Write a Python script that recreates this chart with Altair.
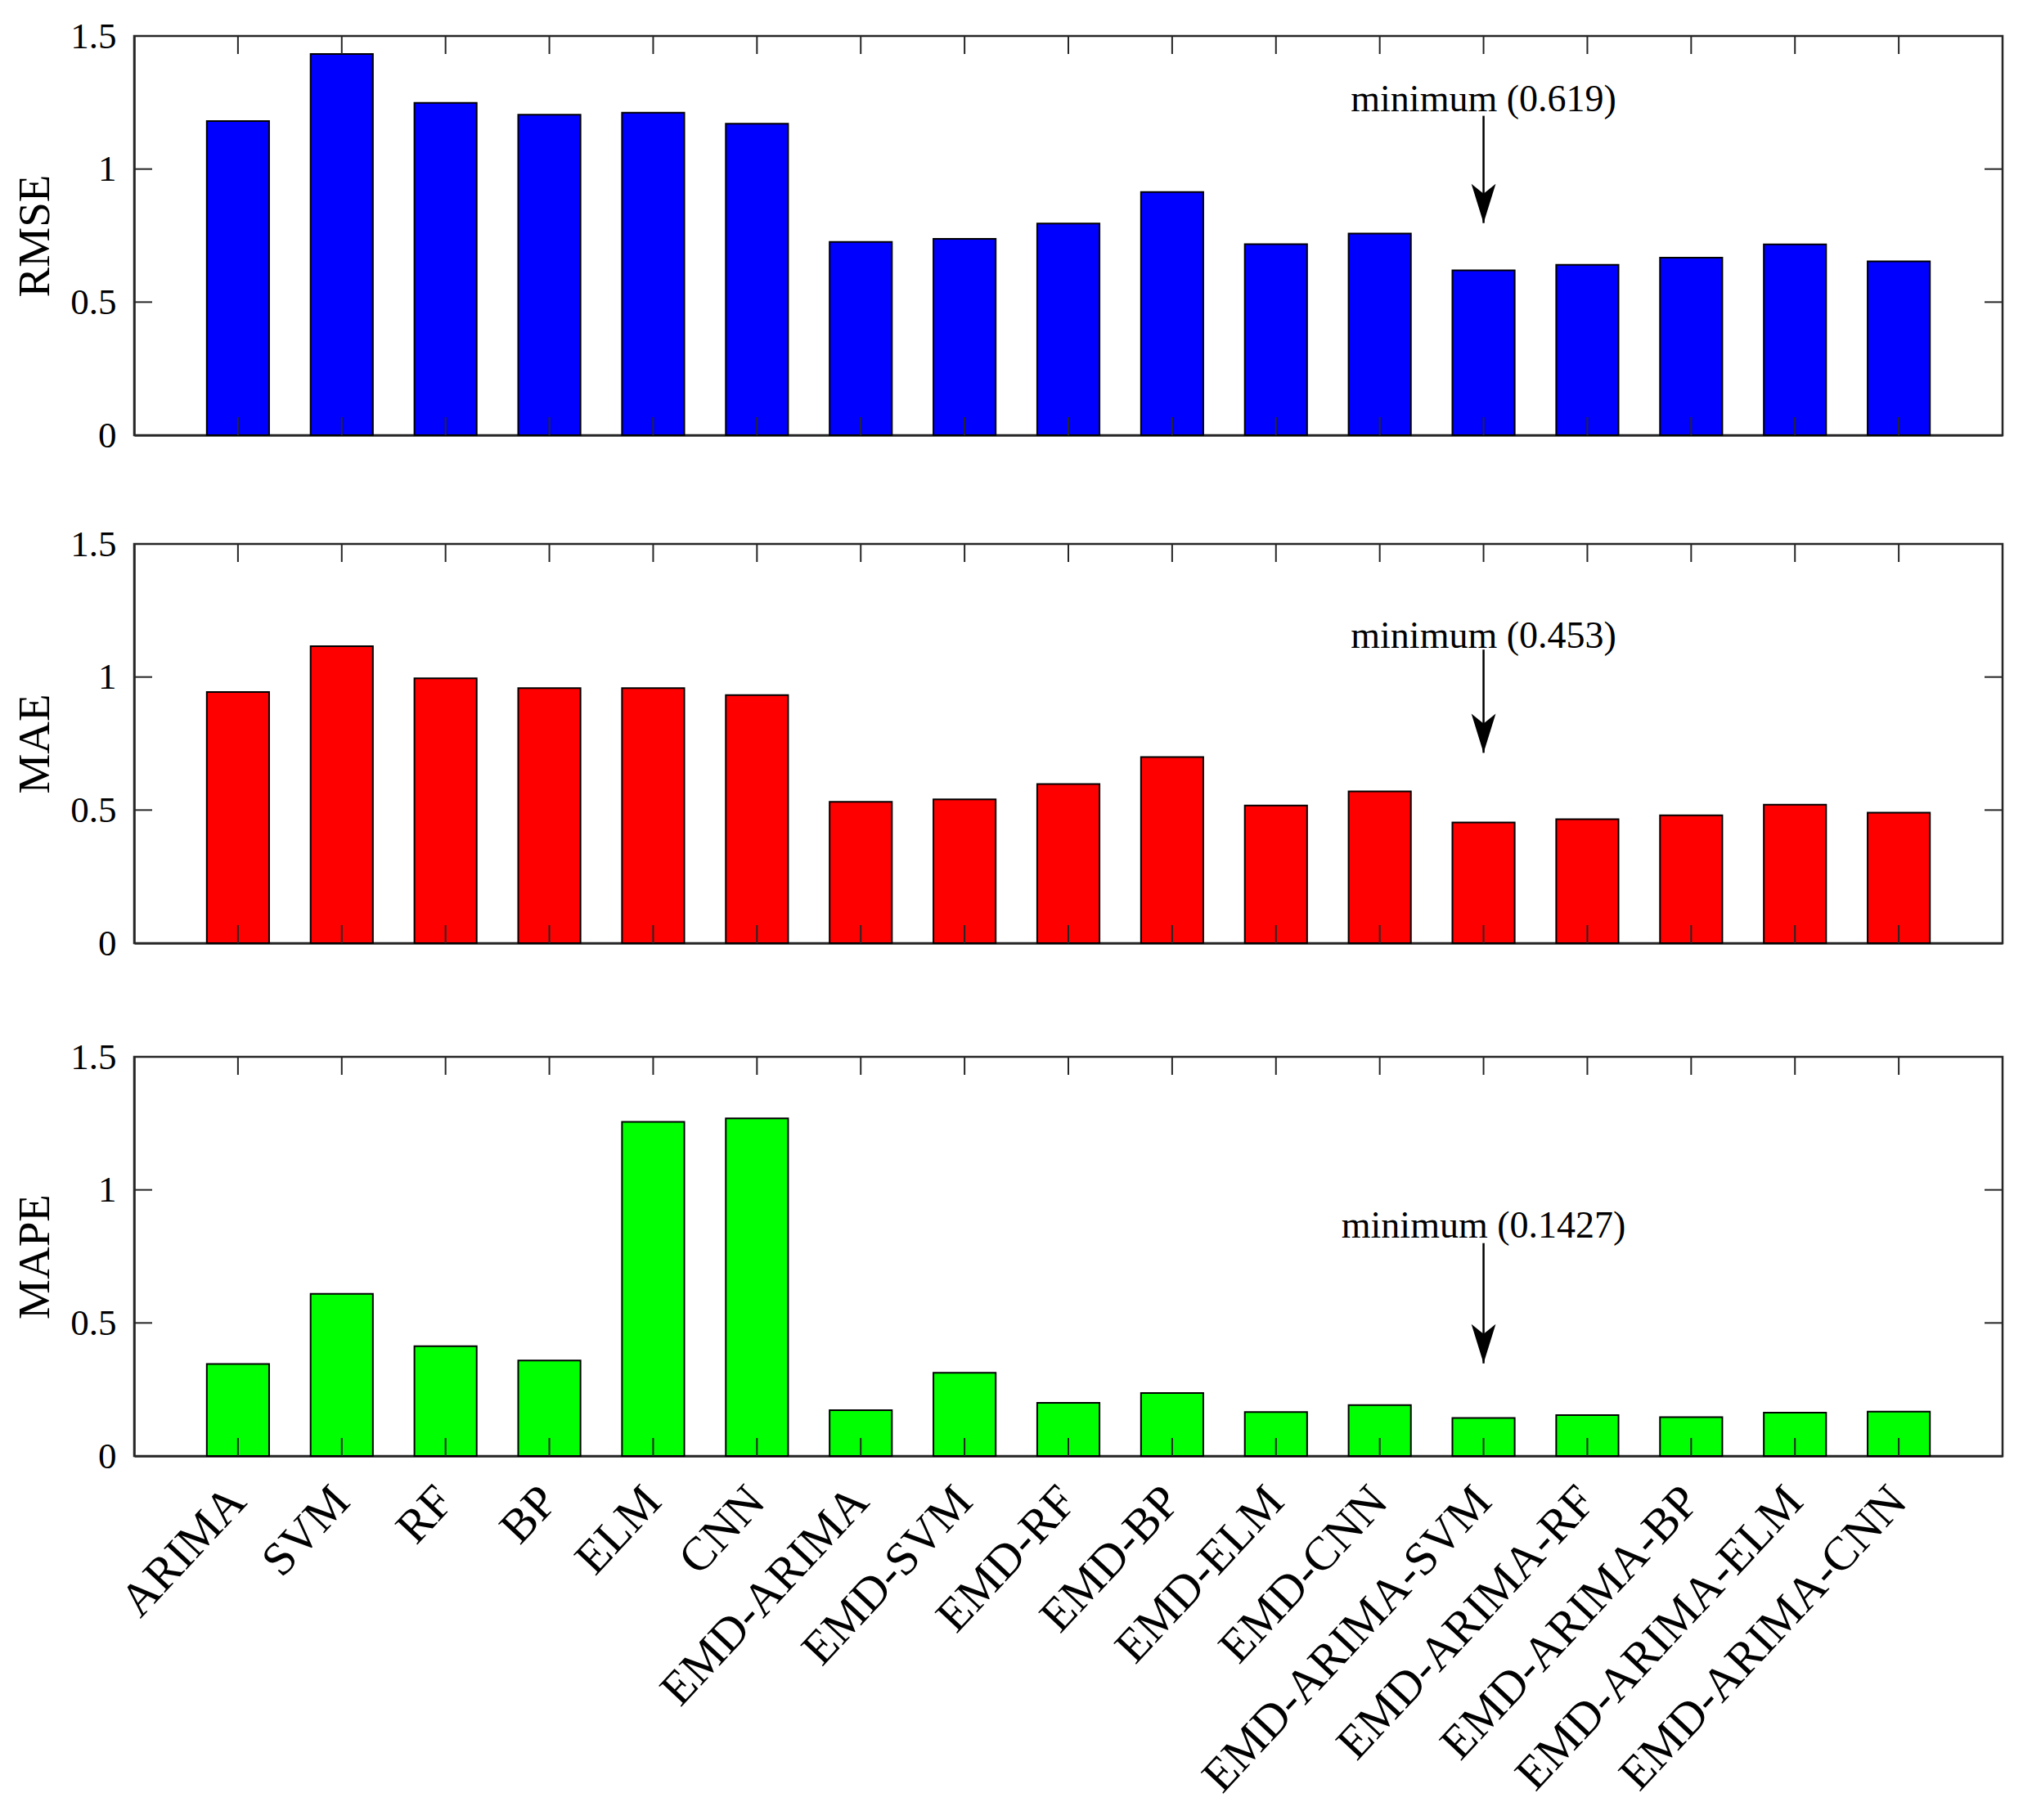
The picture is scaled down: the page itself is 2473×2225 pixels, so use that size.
import altair as alt
import pandas as pd

models = ["ARIMA", "SVM", "RF", "BP", "ELM", "CNN", "EMD-ARIMA", "EMD-SVM",
          "EMD-RF", "EMD-BP", "EMD-ELM", "EMD-CNN", "EMD-ARIMA-SVM",
          "EMD-ARIMA-RF", "EMD-ARIMA-BP", "EMD-ARIMA-ELM", "EMD-ARIMA-CNN"]
rmse = [1.180, 1.432, 1.249, 1.204, 1.212, 1.170, 0.726, 0.738, 0.795,
        0.914, 0.718, 0.758, 0.619, 0.640, 0.667, 0.717, 0.653]
mae = [0.944, 1.116, 0.995, 0.958, 0.958, 0.932, 0.531, 0.540, 0.598,
       0.699, 0.517, 0.570, 0.453, 0.466, 0.480, 0.520, 0.490]
mape = [0.346, 0.609, 0.413, 0.359, 1.256, 1.269, 0.172, 0.313, 0.200,
        0.237, 0.165, 0.191, 0.1427, 0.154, 0.146, 0.163, 0.167]

metric_names = ["RMSE", "MAE", "MAPE"]
bar_colors = ["#0000ff", "#ff0000", "#00ff00"]
min_model = "EMD-ARIMA-SVM"
min_labels = ["minimum (0.619)", "minimum (0.453)", "minimum (0.1427)"]
text_y = [1.26, 1.154, 0.863]
arrow_top = [1.20, 1.103, 0.80]
arrow_tip = [0.797, 0.715, 0.348]
y_ticks = [0, 0.5, 1, 1.5]

W, H = 2284, 488
FONT = "Liberation Serif"
TICK = 22
AX = "#262626"


def panel(i, values, show_x):
    xs = alt.Scale(domain=models, paddingInner=0.4, paddingOuter=0.7)
    ys = alt.Scale(domain=[0, 1.5], nice=False, zero=True)
    xaxis = alt.Axis(title=None, ticks=False, domain=True, domainColor=AX,
                     domainWidth=2.5, labels=show_x, labelAngle=-47,
                     labelAlign="right", labelBaseline="middle",
                     labelFontSize=58, labelFont=FONT, labelColor="black",
                     labelPadding=46, labelOverlap=False, labelLimit=0,
                     grid=False)
    yaxis = alt.Axis(title=metric_names[i], values=y_ticks, format="~g",
                     ticks=False, domain=True, domainColor=AX, domainWidth=2.5,
                     titleFontSize=55, titleFont=FONT, titleFontWeight="normal",
                     titleColor="black", titlePadding=14, labelFontSize=45,
                     labelFont=FONT, labelColor="black", labelPadding=22,
                     grid=False)

    def X(field="model:N"):
        return alt.X(field, sort=models, scale=xs, axis=xaxis)

    def Y(field):
        return alt.Y(field, scale=ys, axis=yaxis)

    df = pd.DataFrame({"model": models, "value": values})
    bars = alt.Chart(df).mark_bar(color=bar_colors[i], stroke="black",
                                  strokeWidth=2).encode(x=X(), y=Y("value:Q"))

    tickdf = pd.DataFrame({"model": models})
    bot = alt.Chart(tickdf).mark_rule(color=AX, strokeWidth=2).encode(
        x=X(), y=alt.value(H), y2=alt.value(H - TICK))
    top = alt.Chart(tickdf).mark_rule(color=AX, strokeWidth=2).encode(
        x=X(), y=alt.value(0), y2=alt.value(TICK))

    ytdf = pd.DataFrame({"value": y_ticks})
    left = alt.Chart(ytdf).mark_rule(color=AX, strokeWidth=2).encode(
        y=Y("value:Q"), x=alt.value(0), x2=alt.value(TICK))
    right = alt.Chart(ytdf).mark_rule(color=AX, strokeWidth=2).encode(
        y=Y("value:Q"), x=alt.value(W - TICK), x2=alt.value(W))

    ann = pd.DataFrame({"model": [min_model], "label": [min_labels[i]],
                        "ty": [text_y[i]], "a0": [arrow_top[i]],
                        "a1": [arrow_tip[i]]})
    txt = alt.Chart(ann).mark_text(font=FONT, fontSize=46, baseline="middle",
                                   align="center", color="black").encode(
        x=X(), y=Y("ty:Q"), text="label:N")
    shaft = alt.Chart(ann).mark_rule(color="black", strokeWidth=2.5).encode(
        x=X(), y=Y("a0:Q"), y2="a1:Q")
    head = alt.Chart(ann).mark_point(
        shape="M0,1 L-0.62,-1 L0,-0.5 L0.62,-1 Z", filled=True, color="black",
        opacity=1, size=2304, yOffset=-24).encode(x=X(), y=Y("a1:Q"))

    return alt.layer(bars, bot, top, left, right, shaft, head, txt).properties(
        width=W, height=H)


chart = alt.vconcat(
    alt.vconcat(panel(0, rmse, False), panel(1, mae, False), spacing=84),
    panel(2, mape, True),
    spacing=90,
).properties(
    padding={"left": 6, "top": 12, "right": 5, "bottom": 5},
    background="white",
).configure_view(stroke=AX, strokeWidth=2.5)

chart.save("out.html", embed_options={"renderer": "svg", "actions": False})
